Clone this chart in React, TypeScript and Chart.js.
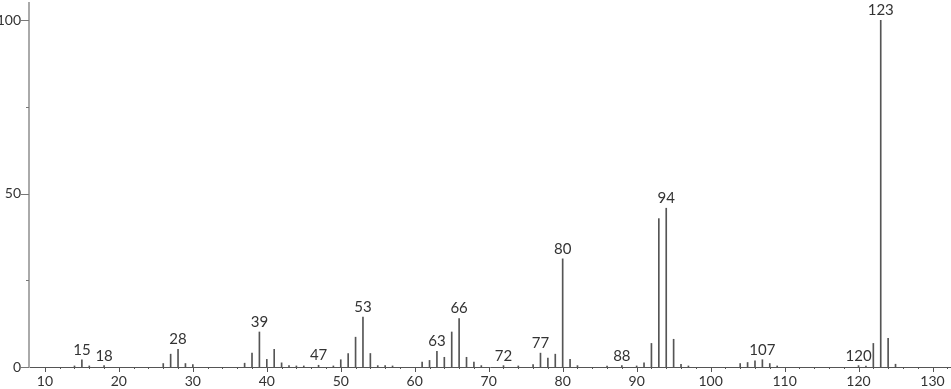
import React, { useEffect, useRef } from "react";
import { Chart, registerables } from "chart.js";

Chart.register(...registerables);

const mzValues = [14, 15, 16, 18, 26, 27, 28, 29, 30, 37, 38, 39, 40, 41, 42, 43, 44, 45, 47, 49, 50, 51, 52, 53, 54, 55, 56, 57, 61, 62, 63, 64, 65, 66, 67, 68, 69, 72, 74, 76, 77, 78, 79, 80, 81, 82, 86, 88, 90, 91, 92, 93, 94, 95, 96, 97, 104, 105, 106, 107, 108, 109, 120, 121, 122, 123, 124, 125];
const intensities = [0.3, 2.1, 0.3, 0.4, 1.0, 3.7, 5.1, 1.0, 0.7, 1.1, 4.0, 10.1, 2.2, 5.1, 1.2, 0.4, 0.3, 0.3, 0.5, 0.3, 2.1, 3.9, 8.6, 14.4, 3.9, 0.4, 0.4, 0.3, 1.4, 1.9, 4.5, 2.8, 10.1, 14.0, 2.8, 1.4, 0.4, 0.4, 0.3, 0.7, 4.0, 2.6, 3.7, 31.2, 2.2, 0.4, 0.3, 0.4, 0.3, 1.2, 6.8, 42.8, 45.8, 8.0, 0.8, 0.3, 1.0, 1.3, 1.8, 2.1, 1.0, 0.3, 0.4, 0.3, 6.8, 100, 8.3, 0.8];
const labeledPeaks = [15, 18, 28, 39, 47, 53, 63, 66, 72, 77, 80, 88, 94, 107, 120, 123];
const xTickLabels = [10, 20, 30, 40, 50, 60, 70, 80, 90, 100, 110, 120, 130];
const yTickLabels = [0, 50, 100];
const yMinorTicks = [25, 75];

const FONT = "Lato, 'DejaVu Sans', sans-serif";

export default function App() {
  const ref = useRef<HTMLCanvasElement | null>(null);

  useEffect(() => {
    const canvas = ref.current;
    if (!canvas) return;

    const decor = {
      id: "decor",
      afterDraw(chart: any) {
        const ctx = chart.ctx;
        const xs = chart.scales.x;
        const ys = chart.scales.y;
        const y0 = ys.getPixelForValue(0);
        const left = chart.chartArea.left;
        ctx.save();
        ctx.strokeStyle = "#555";
        ctx.lineWidth = 1;
        for (let v = 10; v <= 132; v += 2) {
          const px = Math.round(xs.getPixelForValue(v)) + 0.5;
          const major = v % 10 === 0;
          ctx.beginPath();
          ctx.moveTo(px, y0);
          ctx.lineTo(px, y0 + (major ? 5 : 2));
          ctx.stroke();
        }
        ctx.strokeStyle = "#777";
        for (const v of yTickLabels) {
          const py = Math.round(ys.getPixelForValue(v)) + 0.5;
          ctx.beginPath();
          ctx.moveTo(left - 8, py);
          ctx.lineTo(left, py);
          ctx.stroke();
        }
        for (const v of yMinorTicks) {
          const py = Math.round(ys.getPixelForValue(v)) + 0.5;
          ctx.beginPath();
          ctx.moveTo(left - 3, py);
          ctx.lineTo(left, py);
          ctx.stroke();
        }
        ctx.fillStyle = "#333";
        ctx.font = `15px ${FONT}`;
        ctx.textAlign = "center";
        ctx.textBaseline = "alphabetic";
        for (const m of labeledPeaks) {
          const i = mzValues.indexOf(m);
          if (i < 0) continue;
          const px = xs.getPixelForValue(m);
          const py = ys.getPixelForValue(intensities[i]);
          ctx.fillText(String(m), px, py - 5);
        }
        ctx.restore();
      },
    };

    const zeroPad = (s: any) => {
      s.paddingTop = 0;
      s.paddingBottom = 0;
      s.paddingLeft = 0;
      s.paddingRight = 0;
    };

    const chart = new Chart(canvas, {
      type: "bar",
      data: {
        datasets: [
          {
            data: mzValues.map((m, i) => ({ x: m, y: intensities[i] })),
            backgroundColor: "#555",
            borderWidth: 0,
            barThickness: 1,
          } as any,
        ],
      },
      options: {
        animation: false,
        responsive: true,
        maintainAspectRatio: false,
        layout: { padding: { top: 3, right: 0, left: 0, bottom: 0 } },
        plugins: {
          legend: { display: false },
          tooltip: { enabled: false },
        },
        scales: {
          x: {
            type: "linear",
            offset: false,
            min: 7.85,
            max: 132.5,
            grid: { display: false, drawTicks: false, offset: false },
            border: { display: true, color: "#555", width: 1 },
            afterBuildTicks: (s: any) => {
              s.ticks = xTickLabels.map((v) => ({ value: v }));
            },
            afterFit: (s: any) => {
              s.height = 22;
              zeroPad(s);
            },
            ticks: {
              autoSkip: false,
              maxRotation: 0,
              padding: 6,
              color: "#333",
              font: { family: FONT, size: 14 },
            },
          },
          y: {
            min: 0,
            max: 105,
            grid: { display: false, drawTicks: false },
            border: { display: true, color: "#aaa", width: 2 },
            afterBuildTicks: (s: any) => {
              s.ticks = yTickLabels.map((v) => ({ value: v }));
            },
            afterFit: (s: any) => {
              s.width = 29;
              zeroPad(s);
            },
            ticks: {
              padding: 8,
              color: "#333",
              font: { family: FONT, size: 14 },
            },
          },
        },
      } as any,
      plugins: [decor],
    });

    return () => chart.destroy();
  }, []);

  return (
    <div style={{ position: "fixed", left: 0, top: 0, width: 951, height: 389, background: "#fff" }}>
      <canvas ref={ref} />
    </div>
  );
}
